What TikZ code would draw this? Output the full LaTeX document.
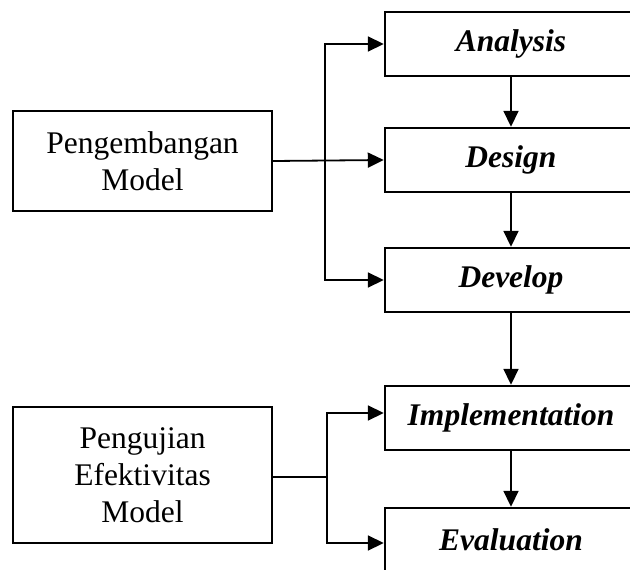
\documentclass[tikz,border=0pt]{standalone}
\usepackage{fontspec}
\setmainfont{Liberation Serif}
\usetikzlibrary{arrows.meta}

\begin{document}
\begin{tikzpicture}[
  x=1pt, y=-1pt,
  font=\fontsize{31.5}{37}\selectfont,
  box/.style={draw, line width=2.4pt, align=center, inner sep=0pt},
  stage/.style={box, minimum width=252pt, minimum height=64pt, font=\fontsize{31.5}{37}\selectfont\bfseries\itshape},
  group/.style={box, minimum width=259pt},
  arr/.style={-{Triangle[length=16pt, width=15pt]}, line width=1.8pt},
]
\useasboundingbox (0,0) rectangle (630,570);
\clip (0,0) rectangle (630,570);

% ---------------------------------------------------------------
% left: the two parts of the study
% ---------------------------------------------------------------
\node[group, minimum height=100pt] (peng) at (142.5,161) {Pengembangan\\Model};
\node[group, minimum height=136pt] (uji) at (142.5,475) {Pengujian\\Efektivitas\\Model};

% ---------------------------------------------------------------
% right: ADDIE stages
% ---------------------------------------------------------------
\node[stage] (ana) at (511,44)  {Analysis};
\node[stage] (des) at (511,160) {Design};
\node[stage] (dev) at (511,280) {Develop};
\node[stage] (imp) at (511,418) {Implementation};
\node[stage] (eva) at (511,540) {Evaluation};

% stage to stage
\draw[arr] (ana.south) -- (des.north);
\draw[arr] (des.south) -- (dev.north);
\draw[arr] (dev.south) -- (imp.north);
\draw[arr] (imp.south) -- (eva.north);

% branches from Pengembangan Model
\coordinate (brA) at (325,160);
\draw[arr] (peng.east) -- (des.west);
\draw[arr] (brA) |- (ana.west);
\draw[arr] (brA) |- (dev.west);

% branches from Pengujian Efektivitas Model
\coordinate (brB) at (327,477);
\draw[line width=1.1pt] (uji.east |- brB) -- (brB);
\draw[arr] (brB) |- ([yshift=5pt]imp.west);
\draw[arr] (brB) |- ([yshift=-3pt]eva.west);

\end{tikzpicture}
\end{document}
